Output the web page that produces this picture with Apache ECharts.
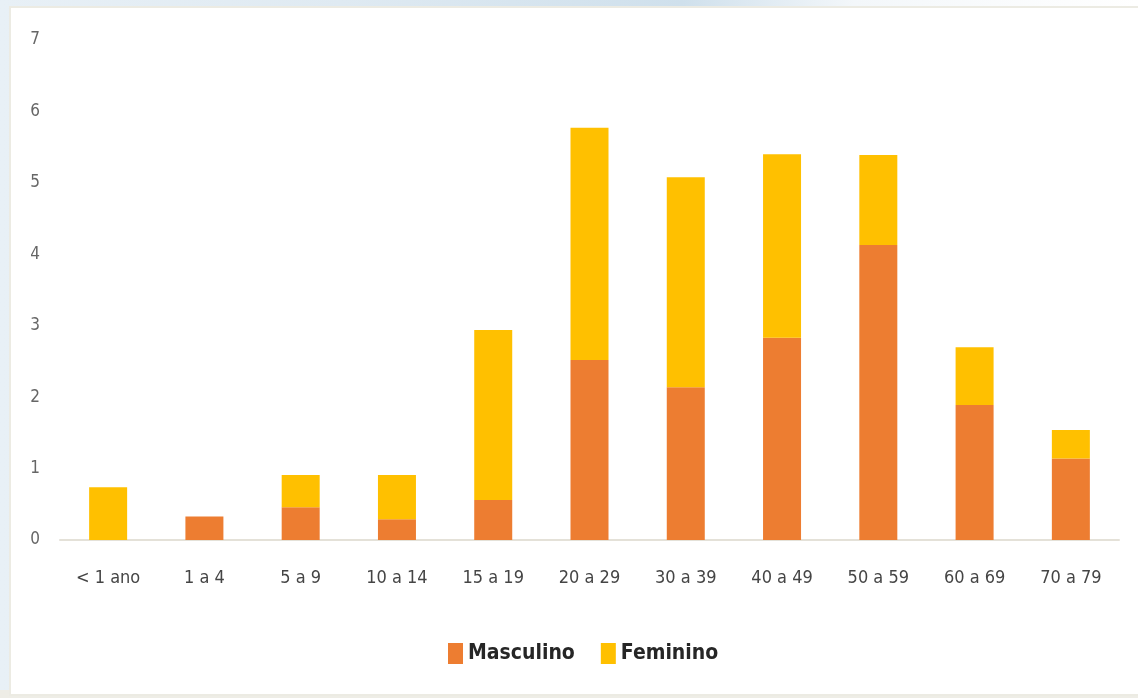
<!DOCTYPE html>
<html>
<head>
<meta charset="utf-8">
<script src="https://cdn.jsdelivr.net/npm/echarts@6/dist/echarts.min.js"></script>
<style>
  html, body { margin: 0; padding: 0; width: 1138px; height: 698px; overflow: hidden; }
  body { background: linear-gradient(90deg, #e8f0f6 0%, #dfeaf2 30%, #cfe0ec 60%, #f3f7fa 75%, #ffffff 100%); position: relative; }
  #bottom { position: absolute; left: 0; top: 690px; width: 1138px; height: 8px; background: #eeede6; }
  #frame { position: absolute; left: 9px; top: 6px; width: 1135px; height: 690px; background: #ffffff; border: 2px solid #ecebe3; box-sizing: border-box; }
  #chart { position: absolute; left: 0; top: 0; width: 1138px; height: 698px; }
</style>
</head>
<body>
<div id="bottom"></div>
<div id="frame"></div>
<div id="chart"></div>
<script>
const categories = ['< 1 ano', '1 a 4', '5 a 9', '10 a 14', '15 a 19', '20 a 29', '30 a 39', '40 a 49', '50 a 59', '60 a 69', '70 a 79'];
const masculino = [0, 0.33, 0.46, 0.29, 0.56, 2.52, 2.14, 2.83, 4.13, 1.89, 1.14];
const feminino  = [0.74, 0, 0.45, 0.62, 2.38, 3.25, 2.94, 2.57, 1.26, 0.81, 0.40];
const yTicks = [0, 1, 2, 3, 4, 5, 6, 7];

const chart = echarts.init(document.getElementById('chart'), null, { renderer: 'canvas' });
const font = '"DejaVu Sans Condensed", "DejaVu Sans", sans-serif';
chart.setOption({
  animation: false,
  textStyle: { fontFamily: font },
  grid: { left: 60, right: 19, top: 40, bottom: 158 },
  legend: {
    left: 443, top: 638,
    itemWidth: 15, itemHeight: 21, itemGap: 26,
    icon: 'rect',
    textStyle: { fontFamily: font, fontSize: 21, fontWeight: 'bold', color: '#262626' },
    data: ['Masculino', 'Feminino']
  },
  xAxis: {
    type: 'category',
    data: categories,
    axisTick: { show: false },
    axisLine: { lineStyle: { color: '#e4e1d8', width: 2 } },
    axisLabel: { margin: 29, fontSize: 18, color: '#454545', fontFamily: font, interval: 0 }
  },
  yAxis: {
    type: 'value',
    min: yTicks[0], max: yTicks[yTicks.length - 1], interval: 1,
    splitLine: { show: false },
    axisLine: { show: false },
    axisTick: { show: false },
    axisLabel: { margin: 20, fontSize: 17, color: '#666666', fontFamily: font }
  },
  series: [
    { name: 'Masculino', type: 'bar', stack: 'total', data: masculino, barWidth: 38, itemStyle: { color: '#ED7D31' } },
    { name: 'Feminino', type: 'bar', stack: 'total', data: feminino, barWidth: 38, itemStyle: { color: '#FFC000' } }
  ]
});
</script>
</body>
</html>
